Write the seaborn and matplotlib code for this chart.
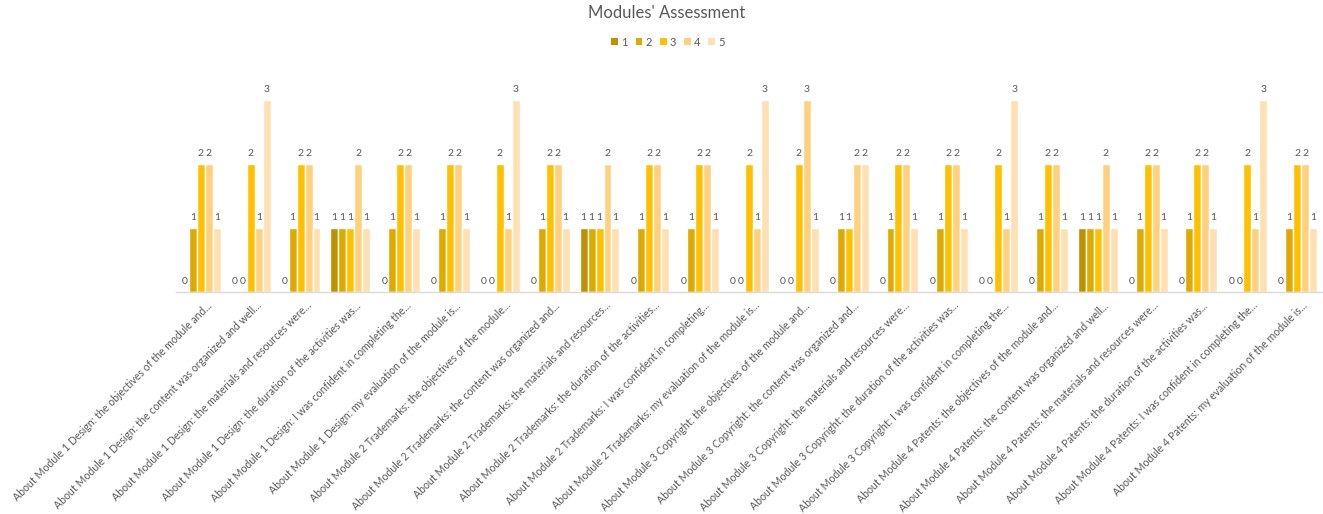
import matplotlib
matplotlib.use("Agg")
import matplotlib.pyplot as plt
import matplotlib.transforms as mtransforms
import seaborn as sns
import pandas as pd
from matplotlib.patches import Patch

categories = [
    "About Module 1 Design: the objectives of the module and...",
    "About Module 1 Design: the content was organized and well...",
    "About Module 1 Design: the materials and resources were...",
    "About Module 1 Design: the duration of the activities was...",
    "About Module 1 Design: I was confident in completing the...",
    "About Module 1 Design: my evaluation of the module is...",
    "About Module 2 Trademarks: the objectives of the module...",
    "About Module 2 Trademarks: the content was organized and...",
    "About Module 2 Trademarks: the materials and resources...",
    "About Module 2 Trademarks: the duration of the activities...",
    "About Module 2 Trademarks: I was confident in completing...",
    "About Module 2 Trademarks: my evaluation of the module is...",
    "About Module 3 Copyright: the objectives of the module and...",
    "About Module 3 Copyright: the content was organized and...",
    "About Module 3 Copyright: the materials and resources were...",
    "About Module 3 Copyright: the duration of the activities was...",
    "About Module 3 Copyright: I was confident in completing the...",
    "About Module 4 Patents: the objectives of the module and...",
    "About Module 4 Patents: the content was organized and well...",
    "About Module 4 Patents: the materials and resources were...",
    "About Module 4 Patents: the duration of the activities was...",
    "About Module 4 Patents: I was confident in completing the...",
    "About Module 4 Patents: my evaluation of the module is...",
]

series_names = ["1", "2", "3", "4", "5"]
s1 = [0, 0, 0, 1, 0, 0, 0, 0, 1, 0, 0, 0, 0, 0, 0, 0, 0, 0, 1, 0, 0, 0, 0]
s2 = [1, 0, 1, 1, 1, 1, 0, 1, 1, 1, 1, 0, 0, 1, 1, 1, 0, 1, 1, 1, 1, 0, 1]
s3 = [2, 2, 2, 1, 2, 2, 2, 2, 1, 2, 2, 2, 2, 1, 2, 2, 2, 2, 1, 2, 2, 2, 2]
s4 = [2, 1, 2, 2, 2, 2, 1, 2, 2, 2, 2, 1, 3, 2, 2, 2, 1, 2, 2, 2, 2, 1, 2]
s5 = [1, 3, 1, 1, 1, 1, 3, 1, 1, 1, 1, 3, 1, 2, 1, 1, 3, 1, 1, 1, 1, 3, 1]

colors = ["#BF9000", "#DEA900", "#FFC000", "#FFD17F", "#FFE0B3"]

rows = []
for name, vals in zip(series_names, [s1, s2, s3, s4, s5]):
    for c, v in zip(categories, vals):
        rows.append({"category": c, "rating": name, "count": v})
df = pd.DataFrame(rows)

sns.set_theme(style="white")
plt.rcParams["font.family"] = ["Lato", "DejaVu Sans"]

fig = plt.figure(figsize=(13.23, 5.14), dpi=100)
ax = fig.add_axes([176 / 1323, 1 - 292 / 514, 1146 / 1323, (292 - 68) / 514])

sns.barplot(data=df, x="category", y="count", hue="rating", hue_order=series_names,
            order=categories, palette=colors, saturation=1, width=0.8,
            edgecolor="white", linewidth=1, ax=ax, legend=False)

for cont in ax.containers:
    ax.bar_label(cont, fmt="%d", padding=4, fontsize=7.5, color="#595959")

ax.set_ylim(0, 3.5)
ax.set_xlim(-0.5, len(categories) - 0.5)
ax.set_xlabel("")
ax.set_ylabel("")
ax.set_yticks([])
for s in ["left", "right", "top"]:
    ax.spines[s].set_visible(False)
ax.spines["bottom"].set_color("#D9D9D9")
ax.spines["bottom"].set_linewidth(1)
ax.tick_params(axis="x", length=0, pad=2)
ax.set_xticks(range(len(categories)))
ax.set_xticklabels(categories, rotation=45, ha="right", rotation_mode="anchor",
                   fontsize=7.6, color="#595959")
offset = mtransforms.ScaledTranslation(5 / 100, -5 / 100, fig.dpi_scale_trans)
for lab in ax.get_xticklabels():
    lab.set_transform(lab.get_transform() + offset)

fig.text(0.504, 0.99, "Modules' Assessment", ha="center", va="top",
         fontsize=12, color="#595959")

handles = [Patch(facecolor=c, edgecolor="none") for c in colors]
fig.legend(handles, series_names, loc="center", bbox_to_anchor=(0.505, 1 - 42 / 514),
           ncol=5, frameon=False, fontsize=8, labelcolor="#595959",
           handlelength=0.6, handleheight=0.6, handletextpad=0.3, columnspacing=0.7)

fig.savefig("out.png", dpi=100, facecolor="white")
